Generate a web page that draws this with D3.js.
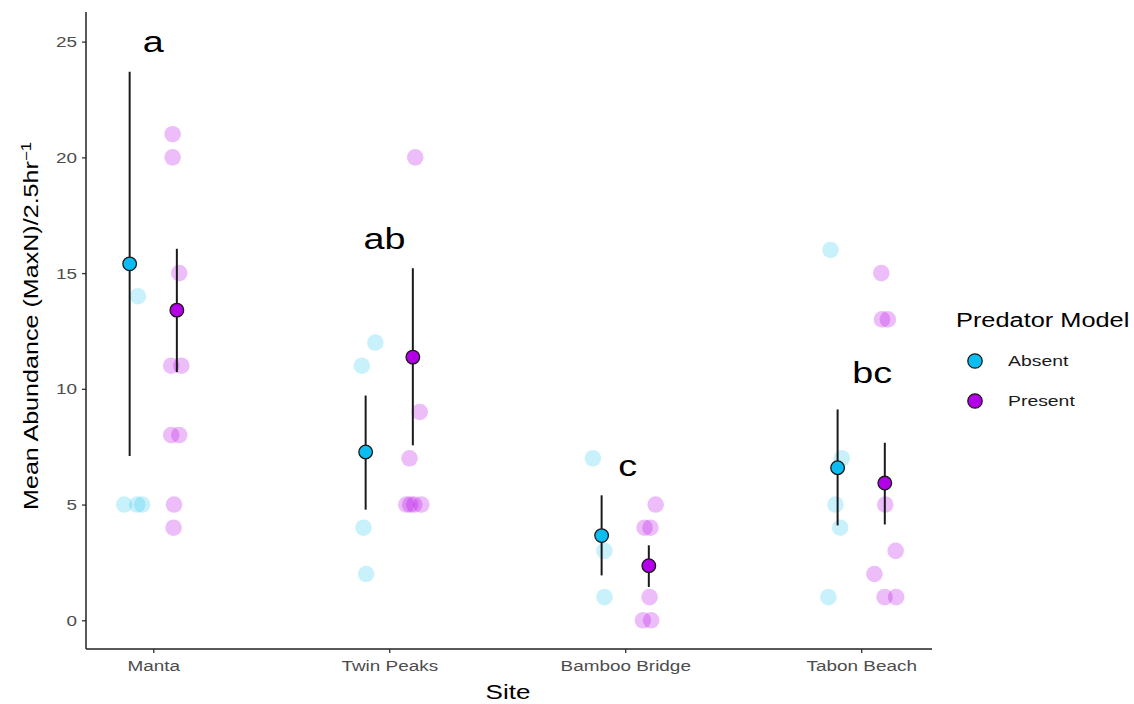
<!DOCTYPE html>
<html>
<head>
<meta charset="utf-8">
<script src="https://cdn.jsdelivr.net/npm/d3@7"></script>
<style>
  body { margin: 0; background: #fff; }
  text { font-family: "Liberation Sans", Arial, Helvetica, sans-serif; }
</style>
</head>
<body>
<div id="chart-area"></div>
<script>
// categories
const sites = ["Manta", "Twin Peaks", "Bamboo Bridge", "Tabon Beach"]
const models = ["Absent", "Present"]
const yTicks = [0, 5, 10, 15, 20, 25]

// group means and error bars, one value per site
const meanAbsent = [15.4, 7.27, 3.66, 6.59]
const lowAbsent = [7.1, 4.78, 1.94, 4.1]
const highAbsent = [23.7, 9.71, 5.4, 9.11]
const meanPresent = [13.4, 11.37, 2.36, 5.93]
const lowPresent = [10.72, 7.56, 1.44, 4.14]
const highPresent = [16.05, 15.21, 3.24, 7.67]

// raw observations: [site index, value, jitter (in site units)]
const obsAbsent = [
  [0, 14, -0.065], [0, 5, -0.123], [0, 5, -0.068], [0, 5, -0.047],
  [1, 12, -0.059], [1, 11, -0.116], [1, 4, -0.109], [1, 2, -0.098],
  [2, 7, -0.137], [2, 3, -0.088], [2, 1, -0.088],
  [3, 16, -0.130], [3, 7, -0.082], [3, 5, -0.109], [3, 4, -0.089], [3, 1, -0.139]
]
const obsPresent = [
  [0, 21, 0.082], [0, 20, 0.082], [0, 15, 0.110], [0, 11, 0.076], [0, 11, 0.119],
  [0, 8, 0.076], [0, 8, 0.110], [0, 5, 0.088], [0, 4, 0.086],
  [1, 20, 0.110], [1, 9, 0.129], [1, 7, 0.086], [1, 5, 0.072], [1, 5, 0.089], [1, 5, 0.106], [1, 5, 0.136],
  [2, 5, 0.129], [2, 4, 0.082], [2, 4, 0.107], [2, 1, 0.103], [2, 0, 0.075], [2, 0, 0.110],
  [3, 15, 0.085], [3, 13, 0.088], [3, 13, 0.113], [3, 5, 0.102], [3, 3, 0.146], [3, 2, 0.056], [3, 1, 0.099], [3, 1, 0.148]
]

// significance letters: [site index, offset, y value, label]
const letters = [[0, 0.0, 25, "a"], [1, -0.02, 16.5, "ab"], [2, 0.01, 6.7, "c"], [3, 0.047, 10.7, "bc"]]

const COLORS = { Absent: "#0BBDF2", Present: "#B400E8" }
const DODGE = 0.1
const WIDEN = 1.3   // the text in the source is drawn wider than Arial

const W = 1134, H = 704
const svg = d3.select("#chart-area").append("svg")
  .attr("width", W)
  .attr("height", H)

const x = d3.scaleLinear().domain([-0.285, 3.3]).range([86, 932])
const y = d3.scaleLinear().domain([-1.24, 26.28]).range([649, 12])

function stretch(sel, k) {
  sel.each(function() {
    const len = this.getComputedTextLength()
    d3.select(this).attr("textLength", len * k).attr("lengthAdjust", "spacingAndGlyphs")
  })
}

// raw points (translucent)
const jit = [
  { model: "Absent", obs: obsAbsent, op: 0.22 },
  { model: "Present", obs: obsPresent, op: 0.26 }
]
jit.forEach(s => {
  svg.append("g").selectAll("circle")
    .data(s.obs)
    .enter()
    .append("circle")
    .attr("cx", d => x(d[0] + d[2]))
    .attr("cy", d => y(d[1]))
    .attr("r", 8.3)
    .attr("fill", COLORS[s.model])
    .attr("fill-opacity", s.op)
})

// error bars + means
const summary = [
  { model: "Absent", mean: meanAbsent, lo: lowAbsent, hi: highAbsent, off: -DODGE },
  { model: "Present", mean: meanPresent, lo: lowPresent, hi: highPresent, off: DODGE }
]
summary.forEach(s => {
  const g = svg.append("g")
  g.selectAll("line")
    .data(sites)
    .enter()
    .append("line")
    .attr("x1", (d, i) => x(i + s.off))
    .attr("x2", (d, i) => x(i + s.off))
    .attr("y1", (d, i) => y(s.lo[i]))
    .attr("y2", (d, i) => y(s.hi[i]))
    .attr("stroke", "#1a1a1a")
    .attr("stroke-width", 2)
  g.selectAll("circle")
    .data(sites)
    .enter()
    .append("circle")
    .attr("cx", (d, i) => x(i + s.off))
    .attr("cy", (d, i) => y(s.mean[i]))
    .attr("r", 6.8)
    .attr("fill", COLORS[s.model])
    .attr("stroke", "#1a1a1a")
    .attr("stroke-width", 1.3)
})

// letters
svg.append("g").selectAll("text")
  .data(letters)
  .enter()
  .append("text")
  .attr("x", d => x(d[0] + d[1]))
  .attr("y", d => y(d[2]))
  .attr("dy", "0.36em")
  .attr("text-anchor", "middle")
  .attr("font-size", "29px")
  .attr("fill", "#000")
  .text(d => d[3])
  .call(stretch, WIDEN)

// axes
const yAxis = svg.append("g")
  .attr("transform", "translate(86,0)")
  .call(d3.axisLeft(y).tickValues(yTicks).tickSize(4).tickPadding(5))
const xAxis = svg.append("g")
  .attr("transform", "translate(0,649)")
  .call(d3.axisBottom(x).tickValues([0, 1, 2, 3]).tickFormat(i => sites[i]).tickSize(4).tickPadding(7))

;[yAxis, xAxis].forEach(a => {
  a.select(".domain").remove()
  a.selectAll(".tick line").attr("stroke", "#333").attr("stroke-width", 1.3)
  a.selectAll(".tick text").attr("fill", "#4d4d4d").attr("font-size", "15.5px")
    .style("font-family", "'Liberation Sans', Arial, sans-serif")
    .call(stretch, 1.22)
})
svg.append("line").attr("x1", 86).attr("x2", 86).attr("y1", 12).attr("y2", 649)
  .attr("stroke", "#222").attr("stroke-width", 1.5)
svg.append("line").attr("x1", 86).attr("x2", 932).attr("y1", 649).attr("y2", 649)
  .attr("stroke", "#222").attr("stroke-width", 1.5)

// axis titles
svg.append("text")
  .attr("x", 508).attr("y", 699)
  .attr("text-anchor", "middle")
  .attr("font-size", "20px")
  .attr("fill", "#000")
  .text("Site")
  .call(stretch, WIDEN)

const yt = svg.append("text")
  .attr("transform", "translate(38,326) rotate(-90)")
  .attr("text-anchor", "middle")
  .attr("font-size", "21px")
  .attr("fill", "#000")
yt.append("tspan").text("Mean Abundance (MaxN)/2.5hr")
yt.append("tspan").attr("dy", "-0.5em").attr("font-size", "14px").text("\u22121")
yt.attr("textLength", 368).attr("lengthAdjust", "spacingAndGlyphs")

// legend
const legend = svg.append("g").attr("transform", "translate(956,0)")
legend.append("text")
  .attr("x", 0).attr("y", 327)
  .attr("font-size", "19.5px")
  .attr("fill", "#000")
  .text("Predator Model")
  .call(stretch, WIDEN)
const items = legend.selectAll(".item")
  .data(models)
  .enter()
  .append("g")
  .attr("transform", (d, i) => `translate(0,${361 + i * 40})`)
items.append("circle")
  .attr("cx", 19).attr("cy", 0).attr("r", 7.2)
  .attr("fill", d => COLORS[d])
  .attr("stroke", "#1a1a1a").attr("stroke-width", 1.3)
items.append("text")
  .attr("x", 52).attr("y", 0).attr("dy", "0.35em")
  .attr("font-size", "15.5px")
  .attr("fill", "#1a1a1a")
  .text(d => d)
  .call(stretch, 1.25)
</script>
</body>
</html>
